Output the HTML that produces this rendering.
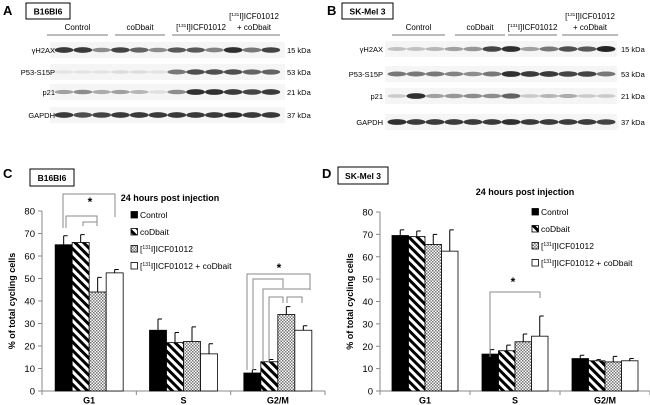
<!DOCTYPE html>
<html><head><meta charset="utf-8"><style>
html,body{margin:0;padding:0;background:#fff}
svg{display:block;font-family:"Liberation Sans",Arial,sans-serif}
</style></head><body>
<svg id="fig" width="650" height="405" viewBox="0 0 650 405">
<defs>
<pattern id="hatch" patternUnits="userSpaceOnUse" width="6" height="6" patternTransform="rotate(-45)">
<rect width="6" height="6" fill="#fff"/><rect width="3" height="6" fill="#000"/></pattern>
<pattern id="dots" patternUnits="userSpaceOnUse" width="3" height="3">
<rect width="3" height="3" fill="#fff"/><rect width="1.5" height="1.5" fill="#777"/><rect x="1.5" y="1.5" width="1.5" height="1.5" fill="#777"/></pattern>
</defs>
<g id="blots"></g>
<g id="chartC"></g>
<g id="chartD"></g>
</svg>
<script>
const NS="http://www.w3.org/2000/svg";
const categories=["G1","S","G2/M"];
const seriesNames=["Control","coDbait","[131I]ICF01012","[131I]ICF01012 + coDbait"];
const cControl=[65,27,8], cCodbait=[66,21.5,13], cIcf=[44,22,34], cCombo=[52.5,16.5,27];
const cErrControl=[4,5,1.5], cErrCodbait=[3.5,4.5,1], cErrIcf=[6.5,6.5,3.5], cErrCombo=[1.5,4.5,2];
const dControl=[69.5,16.5,14.5], dCodbait=[69,18,13.5], dIcf=[65.5,22,13], dCombo=[62.5,24.5,13.5];
const dErrControl=[2.5,2,1.5], dErrCodbait=[2.5,2.5,0.5], dErrIcf=[4.5,3.5,2.5], dErrCombo=[9.5,9,1];
const yTicks=[0,10,20,30,40,50,60,70,80];
const fills=["#000","url(#hatch)","url(#dots)","#fff"];

function el(tag,attrs,parent,text){const e=document.createElementNS(NS,tag);for(const k in attrs)e.setAttribute(k,attrs[k]);if(text!==undefined)e.textContent=text;parent.appendChild(e);return e;}
function txt(parent,x,y,s,size,opts){opts=opts||{};const t=el("text",{x:x,y:y,"font-size":size,"text-anchor":opts.anchor||"start","font-weight":opts.bold?"bold":"normal",fill:"#000"},parent,s);return t;}
function icfLabel(parent,x,y,size,suffix,anchor){
  const t=el("text",{x:x,y:y,"font-size":size,"text-anchor":anchor||"start"},parent);
  el("tspan",{},t,"[");el("tspan",{"font-size":size*0.6,dy:-3},t,"131");el("tspan",{dy:3},t,"I]ICF01012"+(suffix||""));
  return t;
}

function drawChart(g,o){
  const y=v=>o.y0-(v/80)*(o.y0-o.y80);
  const catW=(o.xEnd-o.x0)/3, bw=o.bw;
  const x=(c,s)=>o.x0+catW*(c+0.5)-2*bw+s*bw;
  const ax=el("line",{x1:o.x0,y1:o.y80,x2:o.x0,y2:o.y0,stroke:"#888","stroke-width":1},g);
  
  const xa=el("line",{x1:o.x0,y1:o.y0,x2:o.xEnd,y2:o.y0,stroke:"#888","stroke-width":1},g);
  
  yTicks.forEach(t=>{
    el("line",{x1:o.x0-4,x2:o.x0,y1:y(t),y2:y(t),stroke:"#888"},g);
    const tl=txt(g,o.x0-7,y(t)+3.5,String(t),9.5,{anchor:"end"});
    
  });
  for(let c=0;c<=3;c++){el("line",{x1:o.x0+catW*c,x2:o.x0+catW*c,y1:o.y0,y2:o.y0+4,stroke:"#888"},g);}
  categories.forEach((cat,c)=>{
    const l=txt(g,o.x0+catW*(c+0.5),o.y0+12.5,cat,9,{anchor:"middle",bold:true});
    
  });
  o.series.forEach((vals,s)=>{
    vals.forEach((v,c)=>{
      const e=o.errs[s][c], bx=x(c,s);
      const ln=el("path",{d:`M${bx+bw/2} ${y(v)} V${y(v+e)} M${bx+bw/2} ${y(v+e)} H${bx+bw/2+4}`,stroke:"#000","stroke-width":1,fill:"none"},g);
      
      const r=el("rect",{x:bx,y:y(v),width:bw,height:o.y0-y(v),fill:fills[s],stroke:"#000","stroke-width":0.8},g);
      
    });
  });
  const ti=txt(g,o.titleX,o.titleY,"24 hours post injection",9,{anchor:"middle",bold:true});
  
  const yt=el("text",{x:0,y:0,"font-size":9,"font-weight":"bold","text-anchor":"middle",transform:`translate(${o.x0-27},${(o.y0+o.y80)/2}) rotate(-90)`},g,"% of total cycling cells");
  
  o.legendY.forEach((ly,s)=>{
    const sw=el("rect",{x:o.legendX,y:ly-6.5,width:6.5,height:6.5,fill:fills[s],stroke:"#000","stroke-width":0.8},g);
    
    let t;
    if(s<2)t=txt(g,o.legendX+9,ly,seriesNames[s],8.5);
    else t=icfLabel(g,o.legendX+9,ly,8.5,s===3?" + coDbait":"");
    
  });
  return {x,y,bw};
}

function bracket(g,x1,x2,yTop,yl,yr){
  const p=el("path",{d:`M${x1} ${yl} V${yTop} H${x2} V${yr}`,stroke:"#888","stroke-width":1,fill:"none"},g);
  
}
function star(g,x,y){const s=txt(g,x,y,"*",12,{anchor:"middle",bold:true});}
function box(g,x,y,w,h,s,name){
  const r=el("rect",{x:x,y:y,width:w,height:h,fill:"#fff",stroke:"#000","stroke-width":1},g);
  
  txt(g,x+w/2,y+h/2+3.5,s,8.5,{anchor:"middle",bold:true});
}

const gC=document.getElementById("chartC");
drawChart(gC,{x0:42,xEnd:325,y0:391,y80:211,bw:17,series:[cControl,cCodbait,cIcf,cCombo],errs:[cErrControl,cErrCodbait,cErrIcf,cErrCombo],titleX:170,titleY:201,legendX:131,legendY:[218,235,252,269]});
txt(gC,3,178,"C",13,{bold:true});
box(gC,30,169,44,17,"B16Bl6","panel-c-cell-line-box");
bracket(gC,63,115,194,228,217);bracket(gC,66,97,216,228,225);bracket(gC,83,97,222,226,226);
star(gC,90,206);
bracket(gC,247,310,274,370,289);bracket(gC,253,283,279,370,288);bracket(gC,263,310,289,362,290);bracket(gC,269,283,297,362,303);bracket(gC,287,302,297,303,303);
star(gC,279,272);

const gD=document.getElementById("chartD");
drawChart(gD,{x0:380,xEnd:650,y0:391,y80:212,bw:16.5,series:[dControl,dCodbait,dIcf,dCombo],errs:[dErrControl,dErrCodbait,dErrIcf,dErrCombo],titleX:525,titleY:195,legendX:532,legendY:[215,232,249,266]});
txt(gD,322,178,"D",13,{bold:true});
box(gD,338,167,50,17,"SK-Mel 3","panel-d-cell-line-box");
bracket(gD,490,540,292,357,298);
star(gD,513,286);

const gB=document.getElementById("blots");
const aGamma=[0.9,0.9,0.5,0.85,0.7,0.5,0.75,0.75,0.55,0.95,0.6,0.85];
const aP53=[0.08,0.08,0.08,0.12,0.12,0.08,0.6,0.8,0.8,0.8,0.7,0.7];
const aP21=[0.4,0.5,0.35,0.4,0.3,0.1,0.5,0.95,0.95,0.9,0.85,0.9];
const aGapdh=[0.9,0.8,0.85,0.9,0.9,0.9,0.9,0.9,0.9,0.95,0.9,0.9];
const bGamma=[0.25,0.25,0.3,0.4,0.45,0.85,0.95,0.4,0.6,0.8,0.75,1];
const bP53=[0.6,0.6,0.6,0.55,0.5,0.6,0.95,0.9,0.9,0.85,0.85,0.6];
const bP21=[0.2,0.95,0.4,0.45,0.5,0.5,0.7,0.2,0.3,0.35,0.2,0.2];
const bGapdh=[0.95,0.9,0.9,0.9,0.9,0.9,0.95,0.9,0.9,0.9,0.9,0.85];
function blot(o){
  txt(gB,o.lx,15,o.letter,13,{bold:true});
  box(gB,o.boxX,3,o.boxW,16,o.cell,"blot-cell-line-box");
  o.groups.forEach((gr,i)=>{
    const u=el("line",{x1:gr[0],x2:gr[1],y1:35,y2:35,stroke:"#777","stroke-width":1},gB);
    
    const cx=(gr[0]+gr[1])/2;
    let t;
    if(i<2)t=txt(gB,cx,30,i===0?"Control":"coDbait",8,{anchor:"middle"});
    else if(i===2)t=icfLabel(gB,cx,30,8,"","middle");
    else{t=icfLabel(gB,cx,19,8,"","middle");txt(gB,cx,30,"+ coDbait",8,{anchor:"middle"});}
    
  });
  o.rows.forEach((r,ri)=>{
    const strip=el("rect",{x:o.bx,y:r.y-8,width:o.bw,height:16,fill:"#f5f5f5"},gB);
    
    const l=txt(gB,o.labX,r.y+3,r.name,7.5,{anchor:"end"});
    
    const k=txt(gB,o.kx,r.y+3,r.kda,7.5);
    
    r.vals.forEach((v,i)=>{
      const b=el("ellipse",{cx:o.lane0+i*o.step,cy:r.y,rx:o.step*0.5,ry:1.6+v*1.4,fill:"#000","fill-opacity":v*0.85},gB);
      
    });
  });
}
blot({letter:"A",lx:3,boxX:26,boxW:44,cell:"B16Bl6",groups:[[47,108],[115,165],[172,230],[228,280]],bx:50,bw:235,labX:55,kx:287,lane0:64,step:18.8,
  rows:[{y:50,name:"γH2AX",kda:"15 kDa",vals:aGamma},{y:72,name:"P53-S15P",kda:"53 kDa",vals:aP53},{y:92,name:"p21",kda:"21 kDa",vals:aP21},{y:115,name:"GAPDH",kda:"37 kDa",vals:aGapdh}]});
blot({letter:"B",lx:327,boxX:342,boxW:51,cell:"SK-Mel 3",groups:[[392,445],[455,505],[508,557],[562,618]],bx:385,bw:232,labX:383,kx:621,lane0:397,step:19,
  rows:[{y:49,name:"γH2AX",kda:"15 kDa",vals:bGamma},{y:74,name:"P53-S15P",kda:"53 kDa",vals:bP53},{y:96,name:"p21",kda:"21 kDa",vals:bP21},{y:122,name:"GAPDH",kda:"37 kDa",vals:bGapdh}]});
</script>
</body></html>
